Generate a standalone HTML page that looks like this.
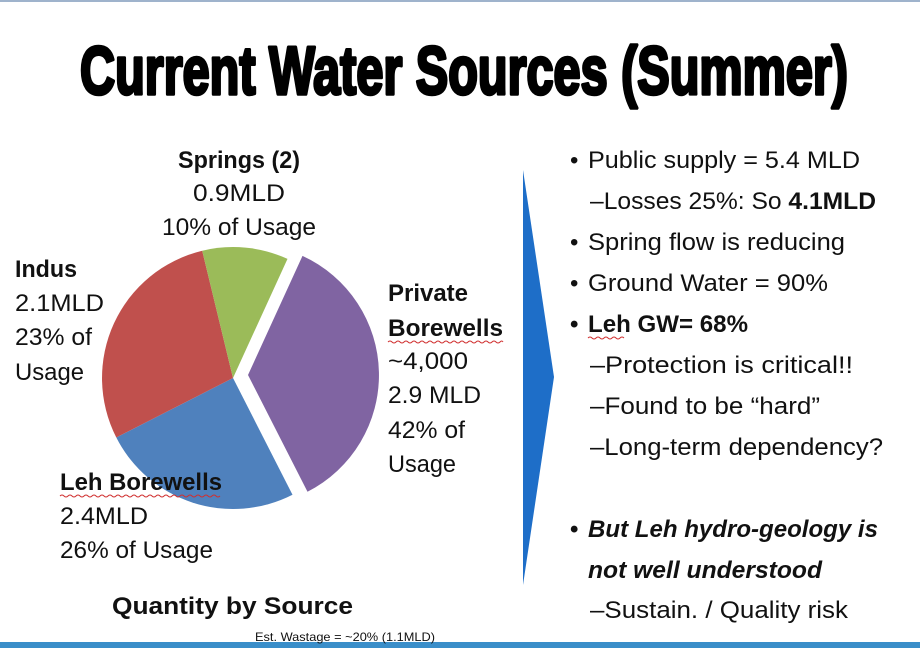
<!DOCTYPE html>
<html><head><meta charset="utf-8"><style>
html,body{margin:0;padding:0;background:#fff}
svg{display:block}
text{font-family:"Liberation Sans",sans-serif;fill:#111}
.b{font-size:24px}
.bd{font-size:24px;font-weight:bold}
</style></head><body>
<svg width="920" height="648" viewBox="0 0 920 648">
<rect x="0" y="0" width="920" height="648" fill="#fff"/>
<rect x="0" y="0" width="920" height="2" fill="#9fb3cc"/>
<rect x="0" y="642" width="920" height="6" fill="#3a8ec9"/>
<text x="80" y="94" font-size="68" font-weight="bold" textLength="768" lengthAdjust="spacingAndGlyphs" style="fill:#000;stroke:#000;stroke-width:3.5;stroke-linejoin:round">Current Water Sources (Summer)</text>

<path d="M233,378 L292.5,494.7 A131,131 0 0 1 116.3,437.5 Z" fill="#4F81BD"/>
<path d="M233,378 L116.3,437.5 A131,131 0 0 1 202.2,250.7 Z" fill="#C0504D"/>
<path d="M233,378 L202.2,250.7 A131,131 0 0 1 287.5,258.9 Z" fill="#9BBB59"/>
<path d="M248,375 L302.5,255.9 A131,131 0 0 1 307.5,491.7 Z" fill="#8064A2"/>

<polygon points="523,170 554,377 523,585" fill="#1E6EC8"/>

<text class="bd" x="178" y="168" textLength="122" lengthAdjust="spacingAndGlyphs">Springs (2)</text>
<text class="b" x="193" y="201" textLength="92" lengthAdjust="spacingAndGlyphs">0.9MLD</text>
<text class="b" x="162" y="235" textLength="154" lengthAdjust="spacingAndGlyphs">10% of Usage</text>
<text class="bd" x="15" y="277" textLength="62" lengthAdjust="spacingAndGlyphs">Indus</text>
<text class="b" x="15" y="311" textLength="89" lengthAdjust="spacingAndGlyphs">2.1MLD</text>
<text class="b" x="15" y="345" textLength="77" lengthAdjust="spacingAndGlyphs">23% of</text>
<text class="b" x="15" y="380" textLength="69" lengthAdjust="spacingAndGlyphs">Usage</text>
<text class="bd" x="388" y="301" textLength="80" lengthAdjust="spacingAndGlyphs">Private</text>
<text class="bd" x="388" y="336" textLength="115" lengthAdjust="spacingAndGlyphs">Borewells</text>
<path d="M388,342 q2,-2 4,0 t4,0 t4,0 t4,0 t4,0 t4,0 t4,0 t4,0 t4,0 t4,0 t4,0 t4,0 t4,0 t4,0 t4,0 t4,0 t4,0 t4,0 t4,0 t4,0 t4,0 t4,0 t4,0 t4,0 t4,0 t4,0 t4,0 t4,0 t3,0" fill="none" stroke="#d03030" stroke-width="1"/>
<text class="b" x="388" y="369" textLength="80" lengthAdjust="spacingAndGlyphs">~4,000</text>
<text class="b" x="388" y="403" textLength="93" lengthAdjust="spacingAndGlyphs">2.9 MLD</text>
<text class="b" x="388" y="438" textLength="77" lengthAdjust="spacingAndGlyphs">42% of</text>
<text class="b" x="388" y="472" textLength="68" lengthAdjust="spacingAndGlyphs">Usage</text>
<text class="bd" x="60" y="490" textLength="162" lengthAdjust="spacingAndGlyphs">Leh Borewells</text>
<path d="M60,496 q2,-2 4,0 t4,0 t4,0 t4,0 t4,0 t4,0 t4,0 t4,0 t4,0 t4,0 t4,0 t4,0 t4,0 t4,0 t4,0 t4,0 t4,0 t4,0 t4,0 t4,0 t4,0 t4,0 t4,0 t4,0 t4,0 t4,0 t4,0 t4,0 t4,0 t4,0 t4,0 t4,0 t4,0 t4,0 t4,0 t4,0 t4,0 t4,0 t4,0 t4,0" fill="none" stroke="#d03030" stroke-width="1"/>
<text class="b" x="60" y="524" textLength="88" lengthAdjust="spacingAndGlyphs">2.4MLD</text>
<text class="b" x="60" y="558" textLength="153" lengthAdjust="spacingAndGlyphs">26% of Usage</text>
<text class="bd" x="112" y="614" textLength="241" lengthAdjust="spacingAndGlyphs">Quantity by Source</text>
<text x="255" y="641" font-size="12" textLength="180" lengthAdjust="spacingAndGlyphs">Est. Wastage = ~20% (1.1MLD)</text>

<g>
<text class="b" x="570" y="168">•</text>
<text class="b" x="588" y="168" textLength="272" lengthAdjust="spacingAndGlyphs">Public supply = 5.4 MLD</text>
<text class="b" x="590" y="209" textLength="286" lengthAdjust="spacingAndGlyphs">–Losses 25%: So <tspan font-weight="bold">4.1MLD</tspan></text>
<text class="b" x="570" y="250">•</text>
<text class="b" x="588" y="250" textLength="257" lengthAdjust="spacingAndGlyphs">Spring flow is reducing</text>
<text class="b" x="570" y="291">•</text>
<text class="b" x="588" y="291" textLength="240" lengthAdjust="spacingAndGlyphs">Ground Water = 90%</text>
<text class="bd" x="570" y="332">•</text>
<text class="bd" x="588" y="332" textLength="160" lengthAdjust="spacingAndGlyphs">Leh GW= 68%</text>
<path d="M588,338 q2,-2 4,0 t4,0 t4,0 t4,0 t4,0 t4,0 t4,0 t4,0 t4,0" fill="none" stroke="#d03030" stroke-width="1"/>
<text class="b" x="590" y="373" textLength="263" lengthAdjust="spacingAndGlyphs">–Protection is critical!!</text>
<text class="b" x="590" y="414" textLength="230" lengthAdjust="spacingAndGlyphs">–Found to be “hard”</text>
<text class="b" x="590" y="455" textLength="293" lengthAdjust="spacingAndGlyphs">–Long-term dependency?</text>
<text class="bd" x="570" y="537">•</text>
<text class="bd" x="588" y="537" font-style="italic" textLength="290" lengthAdjust="spacingAndGlyphs">But Leh hydro-geology  is</text>
<text class="bd" x="588" y="578" font-style="italic" textLength="234" lengthAdjust="spacingAndGlyphs">not well understood</text>
<text class="b" x="590" y="618" textLength="258" lengthAdjust="spacingAndGlyphs">–Sustain. / Quality risk</text>
</g>
</svg>
</body></html>
